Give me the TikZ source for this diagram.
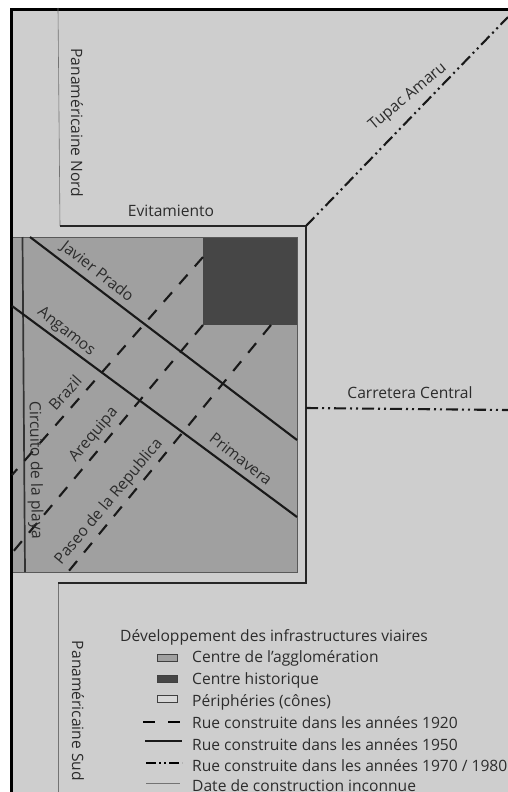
\documentclass[tikz,border=0pt]{standalone}
\usepackage{fontspec}
\setmainfont{Open Sans}[Ligatures=ResetAll]
\definecolor{bgc}{HTML}{CECECE}
\definecolor{midc}{HTML}{A0A0A0}
\definecolor{darkc}{HTML}{464646}
\definecolor{txtc}{HTML}{2C2C2C}
\tikzset{
  lab/.style={text=txtc,font=\fontsize{15.6}{17}\selectfont,inner sep=0pt},
  leg/.style={lab,anchor=west},
  sw/.style={draw=black!75,line width=0.9pt},
  road20/.style={line width=2.1pt,dash pattern=on 12.5pt off 11pt,black!90},
  road50/.style={line width=2.1pt,black!90},
  road70/.style={line width=2.1pt,dash pattern=on 12pt off 4pt on 2pt off 4pt on 2pt off 4pt,black!90},
  roadx/.style={line width=0.6pt,black!55},
  edge/.style={line width=1.7pt,black!85}
}
\begin{document}
\begin{tikzpicture}[x=1pt,y=-1pt]
\useasboundingbox (0,0) rectangle (508,792);
\fill[white] (0,0) rectangle (508,792);
\fill[bgc] (11,10) rectangle (508,792);
\fill[midc] (12,237) rectangle (297,572);
\fill[darkc] (203,237) rectangle (297,325);
\draw[line width=0.8pt,black!65] (12,237) rectangle (297,572);
\draw[line width=3pt] (11,792) -- (11,9.5) -- (508,9.5);
% named ends
\coordinate (nordtop) at (58,8);
\coordinate (nordbot) at (60,226);
\coordinate (ne) at (306,226);
\coordinate (se) at (306,583);
\coordinate (sudtop) at (58,583);
\coordinate (sudbot) at (58,792);
\coordinate (tupacend) at (508,17);
\coordinate (ccstart) at (306,408);
\coordinate (ccend) at (508,410);
\draw[roadx] (nordtop) -- (nordbot);
\draw[roadx] (sudtop) -- (sudbot);
\draw[edge,line join=miter] (nordbot) -- (ne) -- (se) -- (sudtop);
\draw[road70] (ne) -- (tupacend);
\draw[road70] (ccstart) -- (ccend);
% centre roads
\draw[line width=1.7pt,black!80] (22.5,237) -- (25,572);
\draw[road50] (30,237) -- (297,440);
\draw[road50] (12,306) -- (297,517);
\draw[road20] (203,257) -- (12,475);
\draw[road20] (203,325) -- (12,553);
\draw[road20] (271,325) -- (68,572);
% labels
\node[lab,rotate=-90] (pnord) at (77,123) {Panaméricaine Nord};
\node[lab] (evit) at (171,211) {Evitamiento};
\node[lab,rotate=-38] (jp) at (97,272) {Javier Prado};
\node[lab,rotate=-38] (ang) at (66,332) {Angamos};
\node[lab,rotate=48] (bra) at (65,393) {Brazil};
\node[lab,rotate=50] (are) at (94,435) {Arequipa};
\node[lab,rotate=50] (pas) at (109,502) {Paseo de la Republica};
\node[lab,rotate=-89] (cir) at (35,470) {Circuito de la playa};
\node[lab,rotate=-38] (pri) at (241,459) {Primavera};
\node[lab,rotate=40] (tup) at (408,97) {Tupac Amaru};
\node[lab] (cc) at (410,393) {Carretera Central};
\node[lab,rotate=-90] (psud) at (78,711) {Panaméricaine Sud};
% legend
\node[leg] (lt) at (120,637) {Développement des infrastructures viaires};
\node[sw,fill=midc,minimum width=20pt,minimum height=7pt,inner sep=0pt] (s1) at (167.5,658) {};
\node[sw,fill=darkc,minimum width=20pt,minimum height=7pt,inner sep=0pt] (s2) at (167.5,679) {};
\node[sw,fill=bgc!80!white,minimum width=20pt,minimum height=7pt,inner sep=0pt] (s3) at (167.5,699) {};
\node[leg] (l1) at (192,658) {Centre de l'agglomération};
\node[leg] (l2) at (192,680) {Centre historique};
\node[leg] (l3) at (192,702) {Périphéries (cônes)};
\node[leg] (l4) at (192,723) {Rue construite dans les années 1920};
\node[leg] (l5) at (192,745) {Rue construite dans les années 1950};
\node[leg] (l6) at (192,766) {Rue construite dans les années 1970 / 1980};
\node[leg] (l7) at (192,786) {Date de construction inconnue};
\coordinate (a1) at (143,722); \coordinate (a2) at (180,722);
\coordinate (b1) at (145,741); \coordinate (b2) at (182,741);
\coordinate (c1) at (146,763); \coordinate (c2) at (182,763);
\coordinate (d1) at (146,783); \coordinate (d2) at (180,783);
\draw[line width=2.1pt,dash pattern=on 12pt off 13pt] (a1) -- (a2);
\draw[road50] (b1) -- (b2);
\draw[line width=2.1pt,dash pattern=on 10pt off 3pt on 2pt off 3pt on 2pt off 3pt] (c1) -- (c2);
\draw[roadx] (d1) -- (d2);
\end{tikzpicture}
\end{document}
